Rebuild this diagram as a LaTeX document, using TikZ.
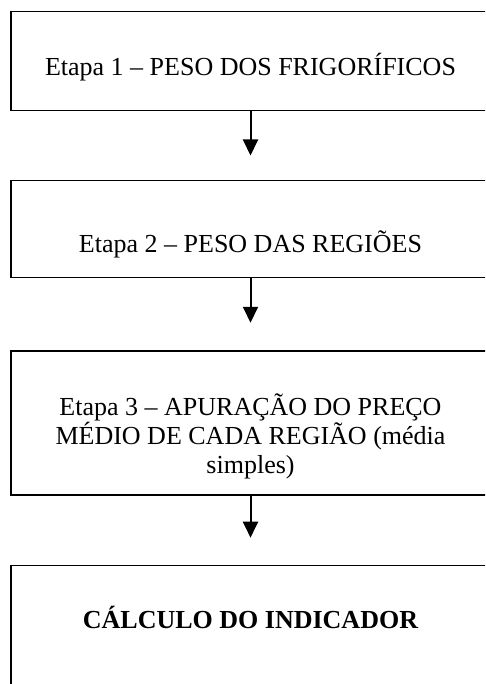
\documentclass[tikz,border=0pt]{standalone}
\usepackage{fontspec}
\setmainfont{Liberation Serif}
\usetikzlibrary{arrows.meta,calc}
\tikzset{
  stagebox/.style={draw=black, line width=1.5pt, minimum width=479pt, inner sep=0pt, outer sep=0pt},
  lbl/.style={anchor=base, inner sep=0pt, font=\fontsize{26}{30}\selectfont},
  flow/.style={line width=2pt, -{Triangle[width=15pt,length=16pt]}}
}
\begin{document}
\begin{tikzpicture}[x=1pt,y=1pt]
\useasboundingbox (0,0) rectangle (485,-684);
\clip (0,0) rectangle (485,-684);
\fill[white] (0,0) rectangle (485,-684);
% boxes
\node[stagebox, minimum height=98.8pt] (b1) at (250.5,-61.1) {};
\node[stagebox, minimum height=97.2pt] (b2) at (250.5,-229.1) {};
\node[stagebox, minimum height=144.3pt] (b3) at (250.5,-422.9) {};
\node[stagebox, minimum height=150pt] (b4) at (250.5,-640.7) {};
% labels
\node[lbl] (t1) at (250.5,-76) {Etapa 1 – PESO DOS FRIGORÍFICOS};
\node[lbl] (t2) at (250.5,-252) {Etapa 2 – PESO DAS REGIÕES};
\node[lbl] (t3a) at (250.5,-415) {Etapa 3 – APURAÇÃO DO PREÇO};
\node[lbl] (t3b) at (250.5,-444) {MÉDIO DE CADA REGIÃO (média};
\node[lbl] (t3c) at (250.5,-473) {simples)};
\node[lbl, font=\fontsize{26}{30}\selectfont\bfseries] (t4) at (250.5,-628) {CÁLCULO DO INDICADOR};
% arrow ends
\coordinate (e1) at ($(b2.north)+(0,25)$);
\coordinate (e2) at ($(b3.north)+(0,28)$);
\coordinate (e3) at ($(b4.north)+(0,28)$);
\draw[flow] (b1.south) -- (e1);
\draw[flow] (b2.south) -- (e2);
\draw[flow] (b3.south) -- (e3);
\end{tikzpicture}
\end{document}
